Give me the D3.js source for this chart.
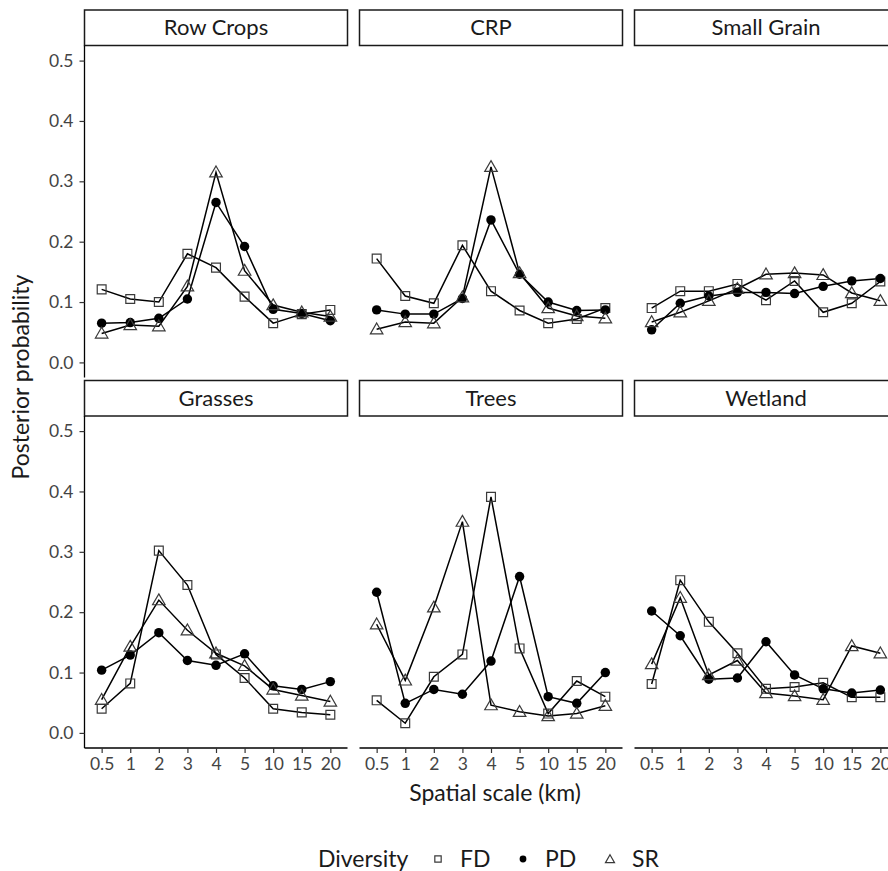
<!DOCTYPE html>
<html>
<head>
<meta charset="utf-8">
<script src="https://cdn.jsdelivr.net/npm/d3@7/dist/d3.min.js"></script>
<style>
  body { margin: 0; background: #fff; }
  svg { display: block; font-family: Lato, "Open Sans", sans-serif; }
</style>
</head>
<body>
<svg id="chart" width="888" height="871"></svg>
<script>
// ---- data ----
const scaleLabels = ["0.5", "1", "2", "3", "4", "5", "10", "15", "20"];
const landcovers = ["Row Crops", "CRP", "Small Grain", "Grasses", "Trees", "Wetland"];
const diversityTypes = ["FD", "PD", "SR"];
const yTicks = [0.0, 0.1, 0.2, 0.3, 0.4, 0.5];

// one row per land cover (same order as landcovers), one value per spatial scale
const fdValues = [
  [0.121, 0.105, 0.100, 0.180, 0.157, 0.109, 0.065, 0.080, 0.087],
  [0.172, 0.110, 0.098, 0.194, 0.118, 0.086, 0.065, 0.072, 0.090],
  [0.090, 0.118, 0.118, 0.130, 0.103, 0.135, 0.083, 0.098, 0.134],
  [0.040, 0.082, 0.302, 0.245, 0.130, 0.091, 0.040, 0.034, 0.030],
  [0.054, 0.016, 0.093, 0.130, 0.391, 0.140, 0.032, 0.086, 0.060],
  [0.081, 0.253, 0.184, 0.132, 0.073, 0.076, 0.083, 0.059, 0.059]
];
const pdValues = [
  [0.065, 0.066, 0.073, 0.105, 0.265, 0.192, 0.088, 0.081, 0.069],
  [0.087, 0.080, 0.080, 0.106, 0.236, 0.146, 0.100, 0.086, 0.087],
  [0.054, 0.098, 0.110, 0.116, 0.116, 0.114, 0.126, 0.135, 0.139],
  [0.104, 0.129, 0.166, 0.120, 0.112, 0.131, 0.078, 0.072, 0.085],
  [0.233, 0.049, 0.072, 0.064, 0.119, 0.259, 0.060, 0.049, 0.100],
  [0.202, 0.161, 0.089, 0.091, 0.151, 0.096, 0.073, 0.066, 0.071]
];
const srValues = [
  [0.048, 0.062, 0.060, 0.126, 0.315, 0.152, 0.095, 0.083, 0.076],
  [0.055, 0.067, 0.065, 0.108, 0.324, 0.148, 0.090, 0.077, 0.073],
  [0.067, 0.083, 0.102, 0.122, 0.146, 0.148, 0.145, 0.115, 0.102],
  [0.055, 0.143, 0.220, 0.170, 0.132, 0.111, 0.072, 0.062, 0.052],
  [0.180, 0.087, 0.208, 0.350, 0.046, 0.035, 0.028, 0.032, 0.045],
  [0.114, 0.224, 0.096, 0.120, 0.066, 0.061, 0.055, 0.144, 0.132]
];
const seriesValues = [fdValues, pdValues, srValues];

// ---- layout ----
const svg = d3.select("#chart");
const colLeft = [84.5, 359.5, 634.5];
const panelW = 263;
const stripTop = [10, 380.5];
const stripH = 35.5;
const panelH = 332;

const x = d3.scalePoint().domain(scaleLabels).range([0, panelW]).padding(0.6);
const y = d3.scaleLinear().domain([-0.025, 0.525]).range([panelH, 0]);

function drawPoint(g, type, cx, cy, scale) {
  scale = scale || 1;
  if (type === "FD") {
    g.append("path").attr("d", d3.symbol().type(d3.symbolSquare).size(78 * scale * scale)())
      .attr("transform", `translate(${cx},${cy})`)
      .attr("fill", "none").attr("stroke", "#3a3a3a").attr("stroke-width", 1.2);
  } else if (type === "PD") {
    g.append("path").attr("d", d3.symbol().type(d3.symbolCircle).size(70 * scale * scale)())
      .attr("transform", `translate(${cx},${cy})`)
      .attr("fill", "#000").attr("stroke", "none");
  } else {
    g.append("path").attr("d", d3.symbol().type(d3.symbolTriangle).size(68 * scale * scale)())
      .attr("transform", `translate(${cx},${cy + 1})`)
      .attr("fill", "none").attr("stroke", "#3a3a3a").attr("stroke-width", 1.2);
  }
}

landcovers.forEach((name, i) => {
  const row = Math.floor(i / 3), col = i % 3;
  const px = colLeft[col];
  const st = stripTop[row];
  const py = st + stripH;

  // strip
  svg.append("rect").attr("x", px).attr("y", st).attr("width", panelW).attr("height", stripH)
    .attr("fill", "#fff").attr("stroke", "#1a1a1a").attr("stroke-width", 1.5);
  svg.append("text").attr("x", px + panelW / 2).attr("y", st + stripH / 2 + 7.5)
    .attr("text-anchor", "middle").attr("font-size", 22).attr("fill", "#1a1a1a").text(name);

  const g = svg.append("g").attr("transform", `translate(${px},${py})`);

  // axes (only outer panels)
  if (col === 0) {
    const ay = g.append("g").call(d3.axisLeft(y).tickValues(yTicks).tickFormat(d3.format(".1f")).tickSize(5).tickPadding(6));
    ay.select(".domain").attr("d", `M0,0V${panelH}`).attr("stroke", "#000").attr("stroke-width", 1.3);
    ay.selectAll(".tick line").attr("stroke", "#333").attr("stroke-width", 1.2);
    ay.selectAll(".tick text").attr("font-size", 17.5).attr("fill", "#444").attr("font-family", "Lato, sans-serif");
  }
  if (row === 1) {
    const ax = g.append("g").attr("transform", `translate(0,${panelH})`)
      .call(d3.axisBottom(x).tickSize(5).tickPadding(5));
    ax.select(".domain").attr("d", `M0,0H${panelW}`).attr("stroke", "#000").attr("stroke-width", 1.3);
    ax.selectAll(".tick line").attr("stroke", "#333").attr("stroke-width", 1.2);
    ax.selectAll(".tick text").attr("font-size", 17.5).attr("fill", "#444").attr("font-family", "Lato, sans-serif");
  }

  const line = d3.line().x((d, k) => x(scaleLabels[k])).y(d => y(d));
  diversityTypes.forEach((t, s) => {
    g.append("path").datum(seriesValues[s][i]).attr("d", line)
      .attr("fill", "none").attr("stroke", "#000").attr("stroke-width", 1.5);
  });
  diversityTypes.forEach((t, s) => {
    seriesValues[s][i].forEach((v, k) => drawPoint(g, t, x(scaleLabels[k]), y(v)));
  });
});

// axis titles
svg.append("text").attr("x", 495).attr("y", 801).attr("text-anchor", "middle")
  .attr("font-size", 23).attr("fill", "#1a1a1a").text("Spatial scale (km)");
svg.append("text").attr("transform", "translate(29,377) rotate(-90)").attr("text-anchor", "middle")
  .attr("font-size", 23).attr("fill", "#1a1a1a").text("Posterior probability");

// legend
const lg = svg.append("g");
lg.append("text").attr("x", 318).attr("y", 867).attr("font-size", 23).attr("fill", "#1a1a1a").text("Diversity");
const keyX = [438, 523, 610];
diversityTypes.forEach((t, s) => {
  drawPoint(lg, t, keyX[s], 859, 0.72);
  lg.append("text").attr("x", keyX[s] + 22).attr("y", 867).attr("font-size", 23).attr("fill", "#1a1a1a").text(t);
});
</script>
</body>
</html>
